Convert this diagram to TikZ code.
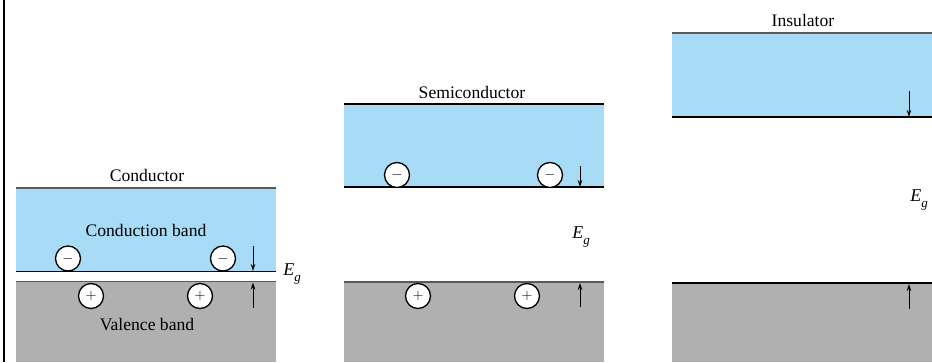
\documentclass[tikz,border=0pt]{standalone}
\usepackage{fontspec}
\setmainfont{Liberation Serif}
\usetikzlibrary{arrows.meta}
\definecolor{cband}{RGB}{168,219,245}
\definecolor{vband}{RGB}{176,176,176}
\definecolor{edgegray}{RGB}{90,90,90}
\newcommand{\Eglabel}{{\itshape E}\raisebox{-0.35em}{\fontsize{13}{13}\selectfont\itshape g}}
\tikzset{
  lbl/.style={font=\fontsize{17.6}{20}\selectfont, inner sep=0pt},
  carrier/.style={circle, draw=black, line width=1.3pt, fill=white, minimum size=25pt, inner sep=0pt, font=\fontsize{15}{15}\selectfont},
  egap/.style={font=\fontsize{18}{20}\selectfont, inner sep=0pt},
  gaparrow/.style={line width=0.9pt, -{Stealth[length=7pt,width=4.5pt]}},
  topline/.style={draw=edgegray, line width=1.8pt},
  botline/.style={draw=black, line width=1.4pt},
}
\begin{document}
\begin{tikzpicture}[x=1pt,y=-1pt]
\useasboundingbox (0,0) rectangle (932,362);
\fill[white] (0,0) rectangle (932,362);
% left border
\draw[line width=2.5pt] (4,0) -- (4,362);

% ---------- Conductor ----------
\fill[cband] (16,188) rectangle (276,271.5);
\fill[vband] (16,281.5) rectangle (276,362);
\draw[topline] (16,188) -- (276,188);
\draw[botline] (16,271.5) -- (276,271.5);
\draw[topline] (16,281.5) -- (276,281.5);
\node[lbl] (tcond) at (147,175) {Conductor};
\node[lbl] (tcb) at (146,230) {Conduction band};
\node[lbl] (tvb) at (147,325) {Valence band};
\node[carrier] (cm1) at (68,258.5) {$-$};
\node[carrier] (cm2) at (223,258.5) {$-$};
\node[carrier] (cp1) at (91,296) {$+$};
\node[carrier] (cp2) at (200,296) {$+$};
\coordinate (ca1) at (253,246);
\coordinate (ca2) at (253,271);
\coordinate (ca3) at (253,308);
\coordinate (ca4) at (253,282.5);
\draw[gaparrow] (ca1) -- (ca2);
\draw[gaparrow] (ca3) -- (ca4);
\node[egap] (ceg) at (292,274) {\Eglabel};

% ---------- Semiconductor ----------
\fill[cband] (344,104) rectangle (604,187);
\fill[vband] (344,282) rectangle (604,362);
\draw[draw=black, line width=1.4pt] (344,104) -- (604,104);
\draw[botline] (344,187) -- (604,187);
\draw[topline] (344,282) -- (604,282);
\node[lbl] (tsemi) at (472,92) {Semiconductor};
\node[carrier] (sm1) at (397,175) {$-$};
\node[carrier] (sm2) at (550,175) {$-$};
\node[carrier] (sp1) at (418,296) {$+$};
\node[carrier] (sp2) at (527,296) {$+$};
\coordinate (sa1) at (580,166);
\coordinate (sa2) at (580,187);
\coordinate (sa3) at (580,307);
\coordinate (sa4) at (580,283);
\draw[gaparrow] (sa1) -- (sa2);
\draw[gaparrow] (sa3) -- (sa4);
\node[egap] (seg) at (581,237) {\Eglabel};

% ---------- Insulator ----------
\fill[cband] (672,33) rectangle (932,117);
\fill[vband] (672,283) rectangle (932,362);
\draw[topline] (672,33) -- (932,33);
\draw[botline] (672,117) -- (932,117);
\draw[botline] (672,283) -- (932,283);
\node[lbl] (tins) at (803,20) {Insulator};
\coordinate (ia1) at (909,91);
\coordinate (ia2) at (909,117);
\coordinate (ia3) at (909,309);
\coordinate (ia4) at (909,284);
\draw[gaparrow] (ia1) -- (ia2);
\draw[gaparrow] (ia3) -- (ia4);
\node[egap] (ieg) at (919,200) {\Eglabel};
\end{tikzpicture}
\end{document}
